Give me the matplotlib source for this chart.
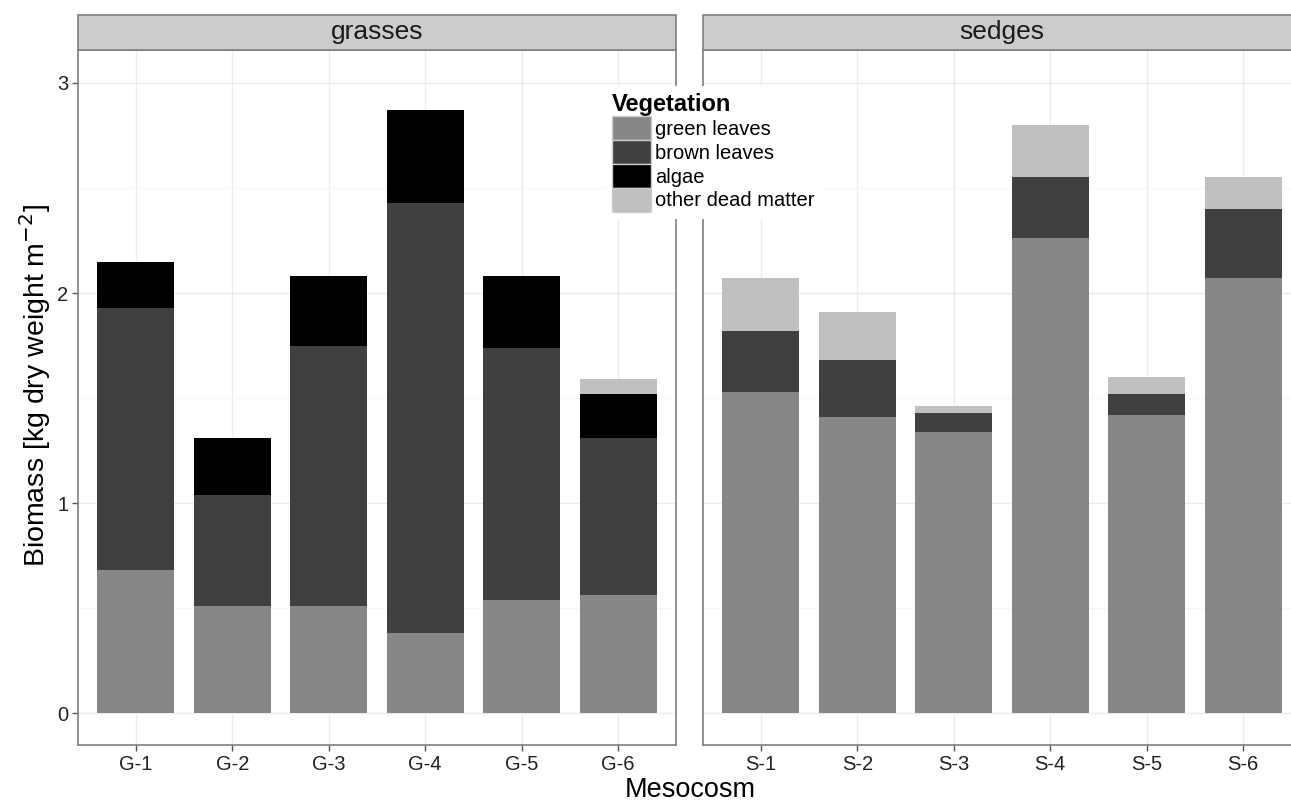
import numpy as np
import matplotlib
matplotlib.use("Agg")
import matplotlib.pyplot as plt
from matplotlib.patches import Rectangle, Patch

plt.rcParams["font.family"] = ["Liberation Sans", "DejaVu Sans"]

# ── data ─────────────────────────────────────────────────────────────
grass_sites = ["G-1", "G-2", "G-3", "G-4", "G-5", "G-6"]
sedge_sites = ["S-1", "S-2", "S-3", "S-4", "S-5", "S-6"]

components = ["green leaves", "brown leaves", "algae", "other dead matter"]
colors = ["#878787", "#3f4140", "#000000", "#c0c0c0"]

grass_green = [0.68, 0.51, 0.51, 0.38, 0.54, 0.56]
grass_brown = [1.25, 0.53, 1.24, 2.05, 1.20, 0.75]
grass_algae = [0.22, 0.27, 0.33, 0.44, 0.34, 0.21]
grass_other = [0.00, 0.00, 0.00, 0.00, 0.00, 0.07]

sedge_green = [1.53, 1.41, 1.34, 2.26, 1.42, 2.07]
sedge_brown = [0.29, 0.27, 0.09, 0.29, 0.10, 0.33]
sedge_algae = [0.00, 0.00, 0.00, 0.00, 0.00, 0.00]
sedge_other = [0.25, 0.23, 0.03, 0.25, 0.08, 0.15]

facets = [
    ("grasses", grass_sites, [grass_green, grass_brown, grass_algae, grass_other]),
    ("sedges", sedge_sites, [sedge_green, sedge_brown, sedge_algae, sedge_other]),
]

# ── layout (pixels -> figure fraction) ──────────────────────────────
W, H = 1291, 805
fig = plt.figure(figsize=(W / 100, H / 100), dpi=100)

panel_top, panel_bot = 50, 745
strip_h = 35
panel_w = 598
lefts = [78, 703]

tick_col = "#222222"
for i, (name, sites, series) in enumerate(facets):
    ax = fig.add_axes([lefts[i] / W, 1 - panel_bot / H, panel_w / W,
                       (panel_bot - panel_top) / H])
    x = np.arange(len(sites))
    bottom = np.zeros(len(sites))
    for vals, col in zip(series, colors):
        vals = np.array(vals)
        ax.bar(x, vals, width=0.8, bottom=bottom, color=col,
               linewidth=0, zorder=3)
        bottom += vals

    ax.set_xlim(-0.6, len(sites) - 0.4)
    ax.set_ylim(-0.152, 3.157)
    ax.set_xticks(x)
    ax.set_xticklabels(sites, fontsize=14.5, color=tick_col)
    ax.set_yticks([0, 1, 2, 3])
    ax.set_yticks([0.5, 1.5, 2.5], minor=True)
    ax.grid(True, which="major", color="#ebebeb", linewidth=1.0, zorder=0)
    ax.grid(True, which="minor", axis="y", color="#f7f7f7", linewidth=1.0, zorder=0)
    ax.set_axisbelow(True)
    ax.tick_params(axis="both", which="major", length=4, color="#555555",
                   width=1, labelsize=14.5, labelcolor=tick_col, pad=3)
    ax.tick_params(axis="both", which="minor", length=0)
    if i == 0:
        ax.set_yticklabels(["0", "1", "2", "3"])
    else:
        ax.tick_params(axis="y", which="both", left=False, labelleft=False)
    for sp in ax.spines.values():
        sp.set_color("#7f7f7f")
        sp.set_linewidth(1.2)

    # facet strip
    sh = strip_h / (panel_bot - panel_top)
    ax.add_patch(Rectangle((0, 1), 1, sh, transform=ax.transAxes,
                           facecolor="#cccccc", edgecolor="#7f7f7f",
                           linewidth=1.2, clip_on=False, zorder=5))
    ax.text(0.5, 1 + sh / 2, name, transform=ax.transAxes, ha="center",
            va="center", fontsize=19, color="#1a1a1a", zorder=6)

fig.text(690 / W, 1 - 790 / H, "Mesocosm", ha="center", va="center", fontsize=19.5)
fig.text(35 / W, 1 - 385 / H, r"Biomass [kg dry weight m$^{-2}$]", ha="center",
         va="center", rotation=90, fontsize=20.5)

handles = [Patch(facecolor=c, edgecolor="#cccccc", linewidth=1) for c in colors]
leg = fig.legend(handles, components, title="Vegetation",
                 loc="upper left", bbox_to_anchor=(605 / W, 1 - 86 / H),
                 fontsize=14.5, title_fontproperties={"weight": "bold", "size": 17},
                 frameon=True, facecolor="white", edgecolor="none", framealpha=1,
                 handlelength=1.95, handleheight=1.45, handletextpad=0.2,
                 labelspacing=0.0, borderpad=0.35, borderaxespad=0,
                 alignment="left")
leg.get_frame().set_linewidth(0)
leg.set_zorder(10)

fig.savefig("out.png", dpi=100)
